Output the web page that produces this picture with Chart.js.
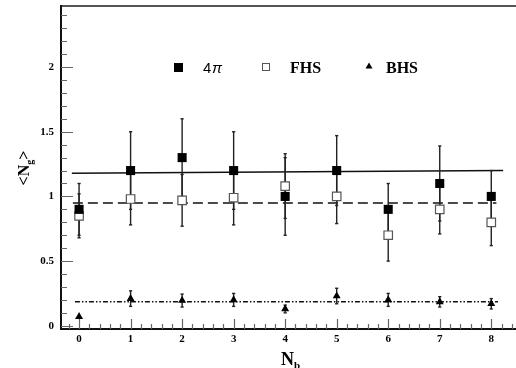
<!DOCTYPE html>
<html>
<head>
<meta charset="utf-8">
<script src="https://cdn.jsdelivr.net/npm/chart.js@4.4.1/dist/chart.umd.min.js"></script>
<style>
html, body { margin: 0; padding: 0; background: #fff; }
</style>
</head>
<body>
<canvas id="myChart" width="516" height="368"></canvas>
<script>
// N_b bins
const nb = [0, 1, 2, 3, 4, 5, 6, 7, 8];

// 4pi
const full = [0.90, 1.20, 1.30, 1.20, 1.00, 1.20, 0.90, 1.10, 1.00];
const fullErr = [0.20, 0.30, 0.30, 0.30, 0.30, 0.27, 0.20, 0.29, 0.20];

// forward hemisphere
const fhs = [0.85, 0.98, 0.97, 0.99, 1.08, 1.00, 0.70, 0.90, 0.80];
const fhsErr = [0.17, 0.20, 0.20, 0.21, 0.25, 0.21, 0.20, 0.19, 0.18];

// backward hemisphere
const bhs = [0.07, 0.21, 0.195, 0.20, 0.13, 0.23, 0.20, 0.185, 0.17];
const bhsErr = [0.00, 0.06, 0.05, 0.05, 0.03, 0.06, 0.05, 0.04, 0.04];

// fitted constant lines
const fitFullX = [-0.14, 8.23];
const fitFullY = [1.18, 1.20];
const fitFhsX = [-0.12, 8.10];
const fitFhsY = [0.95, 0.95];
const fitBhsX = [-0.08, 8.13];
const fitBhsY = [0.185, 0.185];

const xTicks = [0, 1, 2, 3, 4, 5, 6, 7, 8];
const yTicks = [0, 0.5, 1, 1.5, 2];

const serif = '"Liberation Serif", "DejaVu Serif", serif';

function pts(xs, ys) {
    return xs.map((x, i) => ({ x: x, y: ys[i] }));
}

function errPts(vals, errs) {
    const out = [];
    nb.forEach((x, i) => {
        if (errs[i] > 0) {
            out.push({ x: x, y: vals[i] - errs[i] });
            out.push({ x: x, y: vals[i] + errs[i] });
            out.push({ x: x, y: null });
        }
    });
    return out;
}

function errSet(vals, errs) {
    return {
        data: errPts(vals, errs),
        showLine: true,
        spanGaps: false,
        borderColor: '#222',
        borderWidth: 1.4,
        pointStyle: 'line',
        pointRadius: 1.6,
        pointBorderColor: '#222',
        pointBorderWidth: 1.4,
        order: 5
    };
}

function fitSet(xs, ys, dash) {
    return {
        data: pts(xs, ys),
        showLine: true,
        borderColor: '#111',
        borderWidth: 1.5,
        borderDash: dash,
        pointRadius: 0,
        order: 6
    };
}

function noPad(s) {
    s.paddingTop = 0;
    s.paddingBottom = 0;
    s.paddingLeft = 0;
    s.paddingRight = 0;
}

const frame = {
    id: 'frame',
    afterDraw(chart) {
        const ctx = chart.ctx;
        const a = chart.chartArea;
        const xs = chart.scales.x;
        const ys = chart.scales.y;
        ctx.save();

        // frame
        ctx.strokeStyle = '#555';
        ctx.lineWidth = 2;
        ctx.beginPath();
        ctx.moveTo(a.left, a.top + 1);
        ctx.lineTo(a.right, a.top + 1);
        ctx.stroke();
        ctx.strokeStyle = '#111';
        ctx.beginPath();
        ctx.moveTo(a.left + 1, a.top);
        ctx.lineTo(a.left + 1, a.bottom);
        ctx.lineTo(a.right, a.bottom);
        ctx.stroke();

        // inner ticks
        ctx.strokeStyle = '#666';
        ctx.lineWidth = 1.2;
        ctx.beginPath();
        for (let k = 0; k <= 24; k++) {
            const py = Math.round(ys.getPixelForValue(k / 10)) + 0.5;
            const len = k % 5 === 0 ? 12 : 6;
            ctx.moveTo(a.left + 1, py);
            ctx.lineTo(a.left + 1 + len, py);
        }
        for (let k = -1; k <= 42; k++) {
            const px = Math.round(xs.getPixelForValue(k / 5)) + 0.5;
            const len = k % 5 === 0 ? 10 : 5;
            ctx.moveTo(px, a.bottom);
            ctx.lineTo(px, a.bottom - len);
        }
        ctx.stroke();

        // axis titles
        ctx.fillStyle = '#000';
        ctx.textBaseline = 'alphabetic';
        ctx.font = 'bold 18px ' + serif;
        let tx = 281;
        ctx.fillText('N', tx, 365);
        tx += ctx.measureText('N').width;
        ctx.font = 'bold 11px ' + serif;
        ctx.fillText('b', tx, 369);

        ctx.translate(29, 168);
        ctx.rotate(-Math.PI / 2);
        ctx.font = 'bold 16px ' + serif;
        const w1 = ctx.measureText('<N').width;
        ctx.font = 'bold 10px ' + serif;
        const w2 = ctx.measureText('g').width;
        ctx.font = 'bold 16px ' + serif;
        const w3 = ctx.measureText('>').width;
        let sx = -(w1 + w2 + w3) / 2;
        ctx.fillText('<N', sx, 0);
        sx += w1;
        ctx.font = 'bold 10px ' + serif;
        ctx.fillText('g', sx, 4);
        sx += w2;
        ctx.font = 'bold 16px ' + serif;
        ctx.fillText('>', sx, 0);
        ctx.restore();

        // legend
        ctx.save();
        ctx.fillStyle = '#000';
        ctx.fillRect(174, 63, 9, 9);
        ctx.font = '15px "Liberation Sans", Arial, sans-serif';
        ctx.fillText('4', 203, 73);
        ctx.font = 'italic 15px "Liberation Sans", Arial, sans-serif';
        ctx.fillText('\u03c0', 212, 73);

        ctx.strokeStyle = '#555';
        ctx.lineWidth = 1;
        ctx.strokeRect(262.5, 63.5, 7, 7);

        ctx.beginPath();
        ctx.moveTo(369, 62.5);
        ctx.lineTo(372.5, 68.5);
        ctx.lineTo(365.5, 68.5);
        ctx.closePath();
        ctx.fill();

        ctx.font = 'bold 16px ' + serif;
        ctx.fillText('FHS', 290, 73);
        ctx.fillText('BHS', 386, 73);
        ctx.restore();
    }
};

const data = {
    datasets: [
        {
            label: '4\u03c0',
            data: pts(nb, full),
            pointStyle: 'rect',
            pointRadius: 6.4,
            pointBackgroundColor: '#000',
            pointBorderColor: '#000',
            pointBorderWidth: 0,
            order: 1
        },
        {
            label: 'FHS',
            data: pts(nb, fhs),
            pointStyle: 'rect',
            pointRadius: 6,
            pointBackgroundColor: '#fff',
            pointBorderColor: '#555',
            pointBorderWidth: 1.2,
            order: 2
        },
        {
            label: 'BHS',
            data: pts(nb, bhs),
            pointStyle: 'triangle',
            pointRadius: 4.6,
            pointBackgroundColor: '#000',
            pointBorderColor: '#000',
            pointBorderWidth: 0,
            order: 3
        },
        errSet(full, fullErr),
        errSet(fhs, fhsErr),
        errSet(bhs, bhsErr),
        fitSet(fitFullX, fitFullY, []),
        fitSet(fitFhsX, fitFhsY, [10, 5]),
        fitSet(fitBhsX, fitBhsY, [5, 2, 1.5, 2, 1.5, 2])
    ]
};

const config = {
    type: 'scatter',
    data: data,
    options: {
        responsive: false,
        animation: false,
        events: [],
        layout: { autoPadding: false, padding: { top: 5, right: 0, left: 0, bottom: 0 } },
        plugins: {
            legend: { display: false },
            tooltip: { enabled: false }
        },
        scales: {
            x: {
                type: 'linear',
                min: -0.37,
                max: 8.48,
                grid: { display: false, drawTicks: false },
                border: { display: false },
                afterBuildTicks: (s) => { s.ticks = xTicks.map(v => ({ value: v })); },
                afterFit: (s) => { s.height = 39; noPad(s); },
                ticks: {
                    padding: 4,
                    color: '#000',
                    maxRotation: 0,
                    font: { family: serif, size: 11, weight: 'bold' },
                    callback: (v) => String(v)
                }
            },
            y: {
                type: 'linear',
                min: -0.025,
                max: 2.48,
                grid: { display: false, drawTicks: false },
                border: { display: false },
                afterBuildTicks: (s) => { s.ticks = yTicks.map(v => ({ value: v })); },
                afterFit: (s) => { s.width = 60; noPad(s); },
                ticks: {
                    padding: 6,
                    color: '#000',
                    font: { family: serif, size: 11, weight: 'bold' },
                    callback: (v) => String(v)
                }
            }
        }
    },
    plugins: [frame]
};

const myChart = new Chart(
    document.getElementById('myChart'),
    config
);
</script>
</body>
</html>
